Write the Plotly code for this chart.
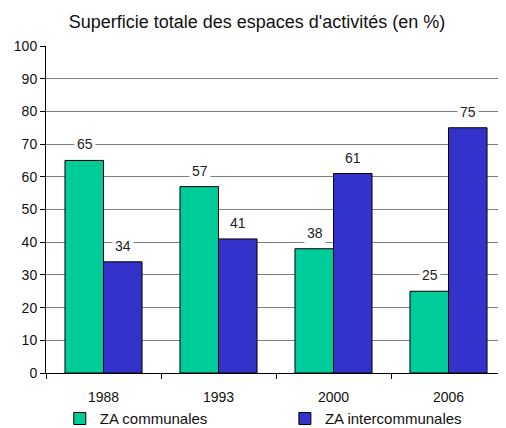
import plotly.graph_objects as go

categories = ["1988", "1993", "2000", "2006"]
za_communales = [65, 57, 38, 25]
za_intercommunales = [34, 41, 61, 75]
y_ticks = list(range(0, 101, 10))

FONT = "Liberation Sans, Arial, sans-serif"
GREEN = "#00CC99"
BLUE = "#3333CC"

fig = go.Figure()
fig.add_trace(go.Bar(x=categories, y=za_communales, name="ZA communales",
                     marker=dict(color=GREEN, line=dict(color="black", width=1)),
                     legend="legend", showlegend=True))
fig.add_trace(go.Bar(x=categories, y=za_intercommunales, name="ZA intercommunales",
                     marker=dict(color=BLUE, line=dict(color="black", width=1)),
                     legend="legend2", showlegend=True))

for series, shift in ((za_communales, -19), (za_intercommunales, 19)):
    for i, val in enumerate(series):
        fig.add_annotation(x=i, y=val, text=str(val), showarrow=False,
                           xshift=shift, yshift=16, bgcolor="white",
                           borderpad=2, font=dict(family=FONT, size=14, color="#222"))

legend_style = dict(orientation="h", xref="container", yref="container",
                    xanchor="left", yanchor="middle", y=0.022,
                    font=dict(family=FONT, size=15, color="#111"),
                    itemclick=False, bgcolor="rgba(0,0,0,0)", visible=True)

# page body has an 8px default margin, so the figure is sized to fit the window
fig.update_layout(
    width=498, height=420,
    showlegend=True,
    margin=dict(l=38, r=0, t=38, b=55, autoexpand=False),
    paper_bgcolor="white", plot_bgcolor="white",
    barmode="group", bargap=0.33, bargroupgap=0,
    title=dict(text="Superficie totale des espaces d'activités (en %)",
               x=0.5, xanchor="center", y=0.967, yanchor="middle",
               font=dict(family=FONT, size=18, color="#111")),
    font=dict(family=FONT, size=14, color="#111"),
    legend=dict(legend_style, x=0.104),
    legend2=dict(legend_style, x=0.556),
    xaxis=dict(type="category", range=[-0.5, len(categories) - 0.5], autorange=False,
               showline=True, linecolor="black", linewidth=1,
               ticks="outside", tickson="boundaries", ticklen=5, tickcolor="black",
               ticklabelstandoff=11,
               showgrid=False, tickfont=dict(family=FONT, size=14)),
    yaxis=dict(range=[0, 100], tickvals=y_ticks, showline=True, linecolor="black",
               linewidth=1, ticks="outside", ticklen=5, tickcolor="black",
               showgrid=True, gridcolor="#808080", gridwidth=1,
               zeroline=False, tickfont=dict(family=FONT, size=14)),
)

fig.write_html("out.html")
